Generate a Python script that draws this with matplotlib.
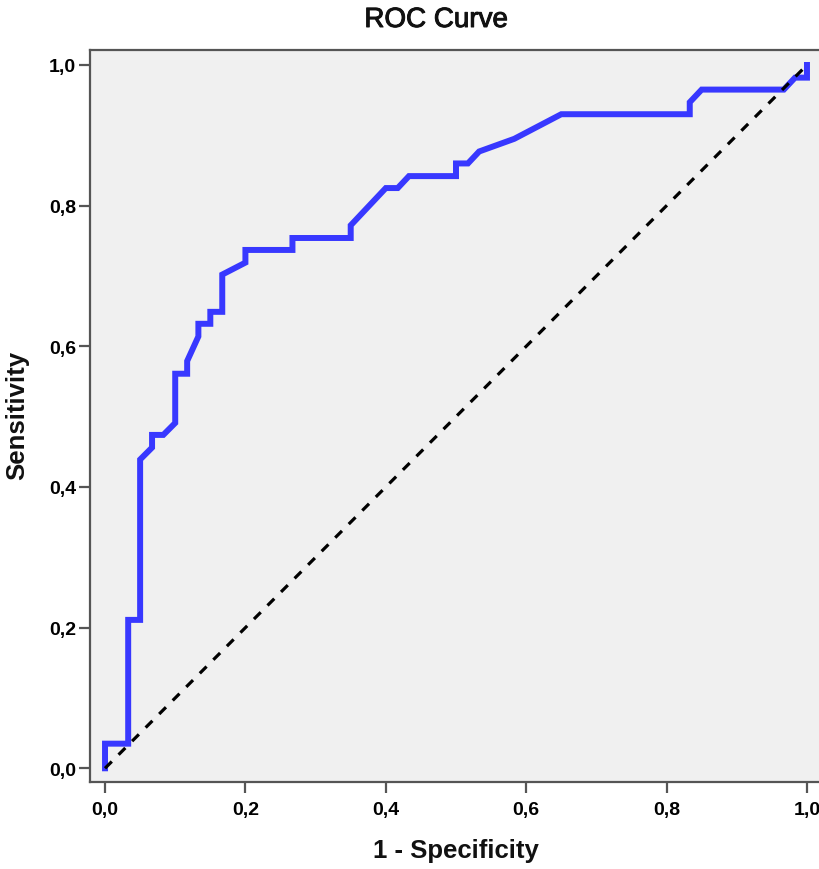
import matplotlib
matplotlib.use("Agg")
import matplotlib.pyplot as plt
import matplotlib.patheffects as pe
from matplotlib.ticker import FuncFormatter

# ROC curve vertices
fpr = [0.0, 0.0, 0.033, 0.033, 0.050, 0.050, 0.067, 0.067, 0.083, 0.100,
       0.100, 0.117, 0.117, 0.133, 0.133, 0.150, 0.150, 0.167, 0.167, 0.200,
       0.200, 0.267, 0.267, 0.350, 0.350, 0.400, 0.417, 0.433, 0.500, 0.500,
       0.517, 0.533, 0.583, 0.650, 0.833, 0.833, 0.850, 0.967, 0.983, 1.0, 1.0]
tpr = [0.0, 0.035, 0.035, 0.211, 0.211, 0.439, 0.456, 0.474, 0.474, 0.491,
       0.561, 0.561, 0.579, 0.614, 0.632, 0.632, 0.649, 0.649, 0.702, 0.719,
       0.737, 0.737, 0.754, 0.754, 0.772, 0.825, 0.825, 0.842, 0.842, 0.860,
       0.860, 0.877, 0.895, 0.930, 0.930, 0.947, 0.965, 0.965, 0.982, 0.982, 1.0]
ref_x = [0.0, 1.0]
ref_y = [0.0, 1.0]
ticks = [0.0, 0.2, 0.4, 0.6, 0.8, 1.0]

W, H = 819, 870
fig = plt.figure(figsize=(W / 100, H / 100), dpi=100)
fig.patch.set_facecolor("white")
# axes from pixel x 90..822, y 51..783
ax = fig.add_axes([90 / W, 1 - 783 / H, (822 - 90) / W, (783 - 51) / H])
ax.set_facecolor("#f0f0f0")

ax.plot(fpr, tpr, color="#3838ff", lw=4.3, solid_joinstyle="miter", zorder=3)
ax.plot(ref_x, ref_y, color="black", lw=2.3, ls=(0, (3, 3)), zorder=4)

ax.set_xlim(-0.0214, 1.0214)
ax.set_ylim(-0.0195, 1.0213)
ax.set_xticks(ticks)
ax.set_yticks(ticks)
fmt = FuncFormatter(lambda v, p: f"{v:.1f}".replace(".", ","))
ax.xaxis.set_major_formatter(fmt)
ax.yaxis.set_major_formatter(fmt)

for s in ax.spines.values():
    s.set_color("#555555")
    s.set_linewidth(1.6)
ax.tick_params(axis="y", direction="out", length=8, width=1.6, color="#555555", pad=2)
ax.tick_params(axis="x", direction="out", length=8, width=1.6, color="#555555", pad=6)
for lab in ax.get_xticklabels() + ax.get_yticklabels():
    lab.set_family("Liberation Sans")
    lab.set_fontweight("bold")
    lab.set_fontsize(14)

fig.text(436 / W, 1 - 28 / H, "ROC Curve", family="Liberation Sans",
         fontsize=20, ha="center", va="baseline", color="#111111",
         path_effects=[pe.withStroke(linewidth=0.7, foreground="#111111")])
fig.text(456 / W, 1 - 851 / H, "1 - Specificity", family="Liberation Sans",
         fontweight="bold", fontsize=18.5, ha="center", va="center", color="#111111")
fig.text(17 / W, 1 - 415 / H, "Sensitivity", family="Liberation Sans",
         fontweight="bold", fontsize=18.5, ha="center", va="center", rotation=90,
         color="#111111")

fig.savefig("out.png", dpi=100)
